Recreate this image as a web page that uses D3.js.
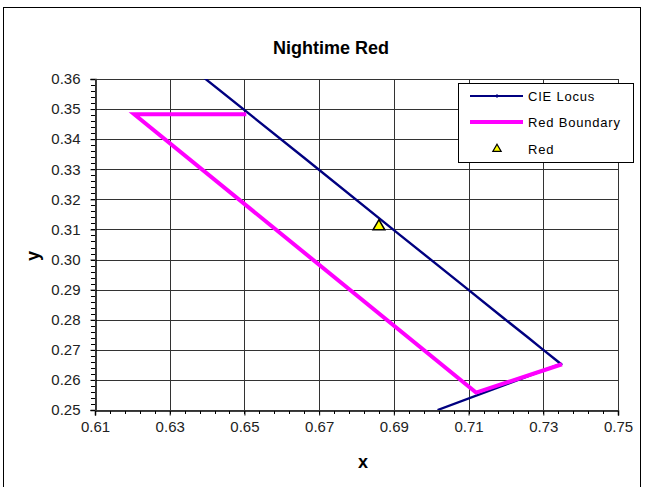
<!DOCTYPE html>
<meta charset="utf-8">
<style>
body { margin: 0; background: #fff; }
text { font-family: Arial, "Liberation Sans", sans-serif; }
</style>
<body>
<svg id="chart" width="645" height="487"></svg>
</body>
<script src="https://d3js.org/d3.v7.min.js"></script>
<script>

// CIE spectral locus near the red end (x, y)
var cieX = [0.6270, 0.6658, 0.6915, 0.7079, 0.7190, 0.7260, 0.7300, 0.7334, 0.7347, 0.7017];
var cieY = [0.3725, 0.3340, 0.3083, 0.2920, 0.2809, 0.2740, 0.2700, 0.2666, 0.2653, 0.2500];

// red boundary polygon
var redBoundX = [0.6505, 0.6205, 0.7120, 0.7350];
var redBoundY = [0.3483, 0.3483, 0.2558, 0.2652];

// measured red point
var redX = [0.686];
var redY = [0.311];

var xTicks = [0.61, 0.63, 0.65, 0.67, 0.69, 0.71, 0.73, 0.75];
var yTicks = [0.25, 0.26, 0.27, 0.28, 0.29, 0.30, 0.31, 0.32, 0.33, 0.34, 0.35, 0.36];

var svg = d3.select("#chart"),
    margin = {top: 79, left: 95},
    width = 523,
    height = 331;

// outer chart border
svg.append("rect")
    .attr("x", 3.5).attr("y", 7.5)
    .attr("width", 637).attr("height", 490)
    .attr("fill", "#fff")
    .attr("stroke", "#000");

svg.append("text")
    .attr("x", 331)
    .attr("y", 54)
    .attr("text-anchor", "middle")
    .style("font-size", "18px")
    .style("font-weight", "bold")
    .text("Nightime Red");

var x = d3.scaleLinear().domain([0.61, 0.75]).range([0, width]);
var y = d3.scaleLinear().domain([0.25, 0.36]).range([height, 0]);

var g = svg.append("g").attr("transform", "translate(" + margin.left + "," + margin.top + ")");

// grid
g.append("g").selectAll("line")
  .data(xTicks)
  .enter().append("line")
    .attr("x1", function(d) { return Math.round(x(d)) + 0.5; })
    .attr("x2", function(d) { return Math.round(x(d)) + 0.5; })
    .attr("y1", 0).attr("y2", height)
    .attr("stroke", "#333");

g.append("g").selectAll("line")
  .data(yTicks)
  .enter().append("line")
    .attr("y1", function(d) { return Math.round(y(d)) + 0.5; })
    .attr("y2", function(d) { return Math.round(y(d)) + 0.5; })
    .attr("x1", 0).attr("x2", width)
    .attr("stroke", "#333");

// minor ticks
var xMinor = d3.range(0.61, 0.7501, 0.004);
var yMinor = d3.range(0.25, 0.3601, 0.002);

g.append("g").selectAll("line")
  .data(xMinor)
  .enter().append("line")
    .attr("x1", function(d) { return Math.round(x(d)) + 0.5; })
    .attr("x2", function(d) { return Math.round(x(d)) + 0.5; })
    .attr("y1", height).attr("y2", height + 4)
    .attr("stroke", "#000");

g.append("g").selectAll("line")
  .data(yMinor)
  .enter().append("line")
    .attr("y1", function(d) { return Math.round(y(d)) + 0.5; })
    .attr("y2", function(d) { return Math.round(y(d)) + 0.5; })
    .attr("x1", -4).attr("x2", 0)
    .attr("stroke", "#000");

// axes
var xAxis = g.append("g")
    .attr("transform", "translate(0," + (height + 0.5) + ")")
    .call(d3.axisBottom(x).tickValues(xTicks).tickSize(5).tickPadding(6).tickFormat(d3.format(".2f")));
var yAxis = g.append("g")
    .attr("transform", "translate(0.5,0)")
    .call(d3.axisLeft(y).tickValues(yTicks).tickSize(5).tickPadding(10).tickFormat(d3.format(".2f")));

[xAxis, yAxis].forEach(function(a) {
  a.select(".domain").attr("stroke", "#000").attr("stroke-width", 1.5);
  a.selectAll("text").style("font-size", "15px").attr("fill", "#222")
    .style("font-family", "Arial, 'Liberation Sans', sans-serif");
  a.selectAll(".tick line").attr("stroke", "#000");
});

// plot area right/top edges
g.append("rect")
    .attr("x", 0.5).attr("y", 0.5)
    .attr("width", width).attr("height", height)
    .attr("fill", "none")
    .attr("stroke", "#333");

svg.append("text")
    .attr("x", 363)
    .attr("y", 468)
    .attr("text-anchor", "middle")
    .style("font-size", "18px")
    .style("font-weight", "bold")
    .text("x");

svg.append("text")
    .attr("transform", "translate(39,256) rotate(-90)")
    .attr("text-anchor", "middle")
    .style("font-size", "18px")
    .style("font-weight", "bold")
    .text("y");

// clip for data
svg.append("clipPath").attr("id", "clip")
  .append("rect").attr("width", width).attr("height", height);

var line = d3.line()
    .x(function(d) { return x(d[0]); })
    .y(function(d) { return y(d[1]); });

var plot = g.append("g").attr("clip-path", "url(#clip)");

plot.append("path")
    .datum(d3.zip(cieX, cieY))
    .attr("d", line)
    .attr("fill", "none")
    .attr("stroke", "#000080")
    .attr("stroke-width", 2.4);

plot.append("path")
    .datum(d3.zip(redBoundX, redBoundY))
    .attr("d", line)
    .attr("fill", "none")
    .attr("stroke", "#ff00ff")
    .attr("stroke-width", 4)
    .attr("stroke-linejoin", "miter");

var tri = d3.symbol().type(d3.symbolTriangle).size(60);

g.selectAll(".pt")
  .data(d3.zip(redX, redY))
  .enter().append("path")
    .attr("class", "pt")
    .attr("transform", function(d) { return "translate(" + x(d[0]) + "," + y(d[1]) + ")"; })
    .attr("d", tri)
    .attr("fill", "#ffff00")
    .attr("stroke", "#000")
    .attr("stroke-width", 1.5);

// legend
var legend = svg.append("g").attr("transform", "translate(458,83)");
legend.append("rect")
    .attr("x", 0.5).attr("y", 0.5)
    .attr("width", 175).attr("height", 79)
    .attr("fill", "#fff")
    .attr("stroke", "#000");

var items = ["CIE Locus", "Red Boundary", "Red"];
var rowY = [13, 39, 66];

legend.append("line").attr("x1", 12).attr("x2", 65).attr("y1", rowY[0]).attr("y2", rowY[0])
    .attr("stroke", "#000080").attr("stroke-width", 2);
legend.append("line").attr("x1", 39).attr("x2", 39).attr("y1", rowY[0] - 2).attr("y2", rowY[0] + 2)
    .attr("stroke", "#000080").attr("stroke-width", 1);
legend.append("line").attr("x1", 12).attr("x2", 65).attr("y1", rowY[1]).attr("y2", rowY[1])
    .attr("stroke", "#ff00ff").attr("stroke-width", 4);
legend.append("path")
    .attr("transform", "translate(39," + rowY[2] + ")")
    .attr("d", d3.symbol().type(d3.symbolTriangle).size(30))
    .attr("fill", "#ffff00").attr("stroke", "#000").attr("stroke-width", 1.2);

legend.selectAll(".lt")
  .data(items)
  .enter().append("text")
    .attr("class", "lt")
    .attr("x", 70)
    .attr("y", function(d, i) { return rowY[i]; })
    .attr("dy", "0.35em")
    .style("font-size", "13px")
    .style("letter-spacing", "0.8px")
    .text(function(d) { return d; });

</script>
